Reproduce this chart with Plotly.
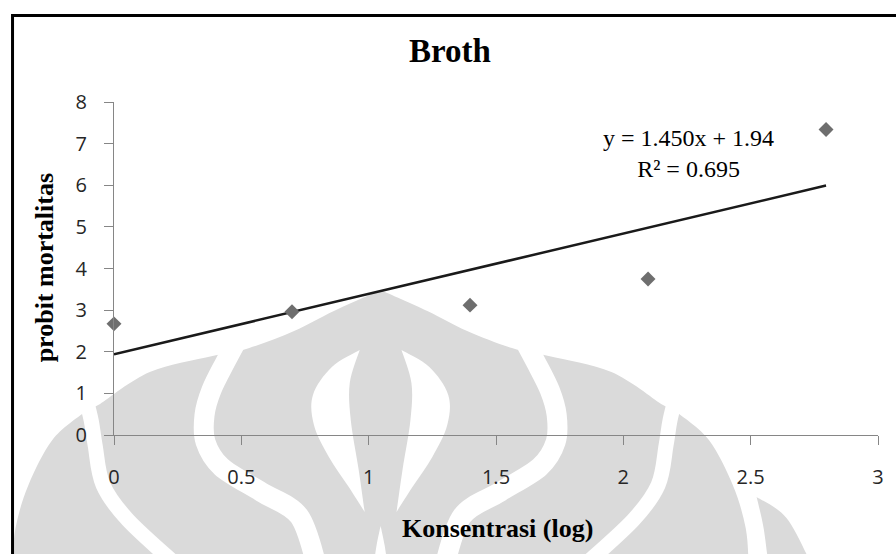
import plotly.graph_objects as go

# ---------------- data ----------------
log_conc = [0.0, 0.699, 1.398, 2.097, 2.796]
probit = [2.67, 2.96, 3.12, 3.75, 7.34]
trend_slope = 1.450
trend_intercept = 1.94
r_squared = 0.695
x_ticks = [0, 0.5, 1, 1.5, 2, 2.5, 3]
x_tick_labels = ["0", "0.5", "1", "1.5", "2", "2.5", "3"]
y_ticks = [0, 1, 2, 3, 4, 5, 6, 7, 8]
y_tick_labels = ["0", "1", "2", "3", "4", "5", "6", "7", "8"]
title_text = "Broth"
x_title = "Konsentrasi (log)"
y_title = "probit mortalitas"

# ---------------- layout geometry ----------------
W, H = 896, 554
ML, MR, MT, MB = 114, 14, 102, 119
PW, PH = W - ML - MR, H - MT - MB
CX = 382  # watermark symmetry axis (pixels)


def to_paper(X, Y):
    return ((X - ML) / PW, (H - MB - Y) / PH)


def fmt(p):
    x, y = to_paper(*p)
    return "%.5f,%.5f" % (x, y)


def catmull(pts):
    out = []
    n = len(pts)
    for i in range(n - 1):
        p0 = pts[i - 1] if i > 0 else pts[i]
        p1, p2 = pts[i], pts[i + 1]
        p3 = pts[i + 2] if i + 2 < n else pts[i + 1]
        c1 = (p1[0] + (p2[0] - p0[0]) / 6, p1[1] + (p2[1] - p0[1]) / 6)
        c2 = (p2[0] - (p3[0] - p1[0]) / 6, p2[1] - (p3[1] - p1[1]) / 6)
        out.append((c1, c2, p2))
    return out


def path(edges, closed=True):
    s, cur = "", None
    for e in edges:
        if cur is None:
            s += "M" + fmt(e[0])
        elif tuple(e[0]) != tuple(cur):
            s += "L" + fmt(e[0])
        for c1, c2, p in catmull(e):
            s += "C%s %s %s" % (fmt(c1), fmt(c2), fmt(p))
        cur = e[-1]
    if closed:
        s += "Z"
    return s


def mir(pts):
    return [(2 * CX - x, y) for x, y in reversed(pts)]


def mir_keep(pts):
    return [(2 * CX - x, y) for x, y in pts]


WM = "#dadada"
shapes = []

# silhouette of the watermark
left_outer = [(12, 566), (15, 528), (28, 485), (52, 440), (83, 413)]
left_top = [(100, 404), (150, 372), (213, 356), (250, 348), (295, 331), (335, 311), (CX, 290)]
sil = path([left_outer, left_top, mir(left_top), mir(left_outer)])
shapes.append(dict(type="path", path=sil, xref="paper", yref="paper", layer="below",
                   fillcolor=WM, line=dict(width=0)))
# outer crescent on the right
d_shape = path([[(760, 497), (790, 518), (816, 566)], [(772, 566), (767, 528), (760, 497)]])
shapes.append(dict(type="path", path=d_shape, xref="paper", yref="paper", layer="below",
                   fillcolor=WM, line=dict(width=0)))

# white bands
band1 = [(84, 392), (91, 420), (95, 445), (103, 485), (128, 520), (178, 566)]
band2 = [(240, 336), (226, 362), (212, 390), (205, 415), (206, 442), (222, 467),
         (262, 492), (300, 516), (318, 566)]
for b, w in ((band1, 15), (band2, 20)):
    for pts in (b, mir_keep(b)):
        shapes.append(dict(type="path", path=path([pts], closed=False), xref="paper",
                           yref="paper", layer="below", fillcolor="rgba(0,0,0,0)",
                           line=dict(color="white", width=w)))

# white petals
petal_outer = [(361, 350), (333, 367), (314, 395), (315, 425), (330, 457), (350, 487), (366, 512)]
petal_inner = [(366, 512), (360, 470), (352, 420), (351, 383), (361, 350)]
for po, pi in ((petal_outer, petal_inner), (mir_keep(petal_outer), mir_keep(petal_inner))):
    shapes.append(dict(type="path", path=path([po, pi]), xref="paper", yref="paper",
                       layer="below", fillcolor="white", line=dict(width=0)))
slit = path([[(CX, 526), (CX - 4, 545), (CX - 7, 566)], [(CX + 7, 566), (CX + 4, 545), (CX, 526)]])
shapes.append(dict(type="path", path=slit, xref="paper", yref="paper", layer="below",
                   fillcolor="white", line=dict(width=0)))

# black outer frame
fx0, fy1 = to_paper(12, 15.5)
fx1, fy0 = to_paper(905, 570)
shapes.append(dict(type="rect", xref="paper", yref="paper", x0=fx0, x1=fx1, y0=fy0, y1=fy1,
                   line=dict(color="black", width=3), fillcolor="rgba(0,0,0,0)", layer="above"))

# ---------------- traces ----------------
fig = go.Figure()
x_end = max(log_conc)
fig.add_trace(go.Scatter(
    x=[0, x_end],
    y=[trend_intercept, trend_intercept + trend_slope * x_end],
    mode="lines", line=dict(color="#1a1a1a", width=2.5),
    hoverinfo="skip", showlegend=False, cliponaxis=False))
fig.add_trace(go.Scatter(
    x=log_conc, y=probit, mode="markers",
    marker=dict(symbol="diamond", size=11.5, color="#6e6e6e", line=dict(width=0)),
    showlegend=False, cliponaxis=False))

serif = "Liberation Serif"
annotations = []
ax, ay = to_paper(44, 268)
annotations.append(dict(text="<b>%s</b>" % y_title, x=ax, y=ay, xref="paper", yref="paper",
                        textangle=-90, showarrow=False, xanchor="center", yanchor="middle",
                        font=dict(family=serif, size=26, color="black")))
ax, ay = to_paper(500, 528)
annotations.append(dict(text="<b>%s</b>" % x_title, x=ax, y=ay, xref="paper", yref="paper",
                        showarrow=False, xanchor="center", yanchor="middle",
                        font=dict(family=serif, size=26, color="black")))
ax, ay = to_paper(692, 153)
annotations.append(dict(text="y = %.3fx + %.2f<br>R² = %.3f" % (trend_slope, trend_intercept, r_squared),
                        x=ax, y=ay, xref="paper", yref="paper", showarrow=False,
                        xanchor="center", yanchor="middle", align="center",
                        font=dict(family=serif, size=24, color="black")))

tickfont = dict(family="Open Sans", size=20, color="#262626")
fig.update_layout(
    width=W, height=H,
    margin=dict(l=ML, r=MR, t=MT, b=MB, pad=0),
    paper_bgcolor="white", plot_bgcolor="rgba(0,0,0,0)",
    title=dict(text="<b>%s</b>" % title_text, x=450 / W, xref="container", xanchor="center",
               y=1 - 50 / H, yref="container", yanchor="middle",
               font=dict(family=serif, size=33, color="black")),
    xaxis=dict(range=[0, 3], tickvals=x_ticks, ticktext=x_tick_labels, ticks="outside",
               ticklen=9, tickwidth=1, tickcolor="#868686", showline=True,
               linecolor="#868686", linewidth=1.3, showgrid=False, zeroline=False,
               tickfont=tickfont, ticklabelstandoff=15, fixedrange=True),
    yaxis=dict(range=[0, 8], tickvals=y_ticks, ticktext=y_tick_labels, ticks="outside",
               ticklen=9, tickwidth=1, tickcolor="#868686", showline=True,
               linecolor="#868686", linewidth=1.3, showgrid=False, zeroline=False,
               tickfont=tickfont, ticklabelstandoff=13, fixedrange=True),
    shapes=shapes,
    annotations=annotations,
    showlegend=False,
)

fig.write_html("out.html", config={"displayModeBar": False},
               post_script="document.body.style.margin='0px';")
